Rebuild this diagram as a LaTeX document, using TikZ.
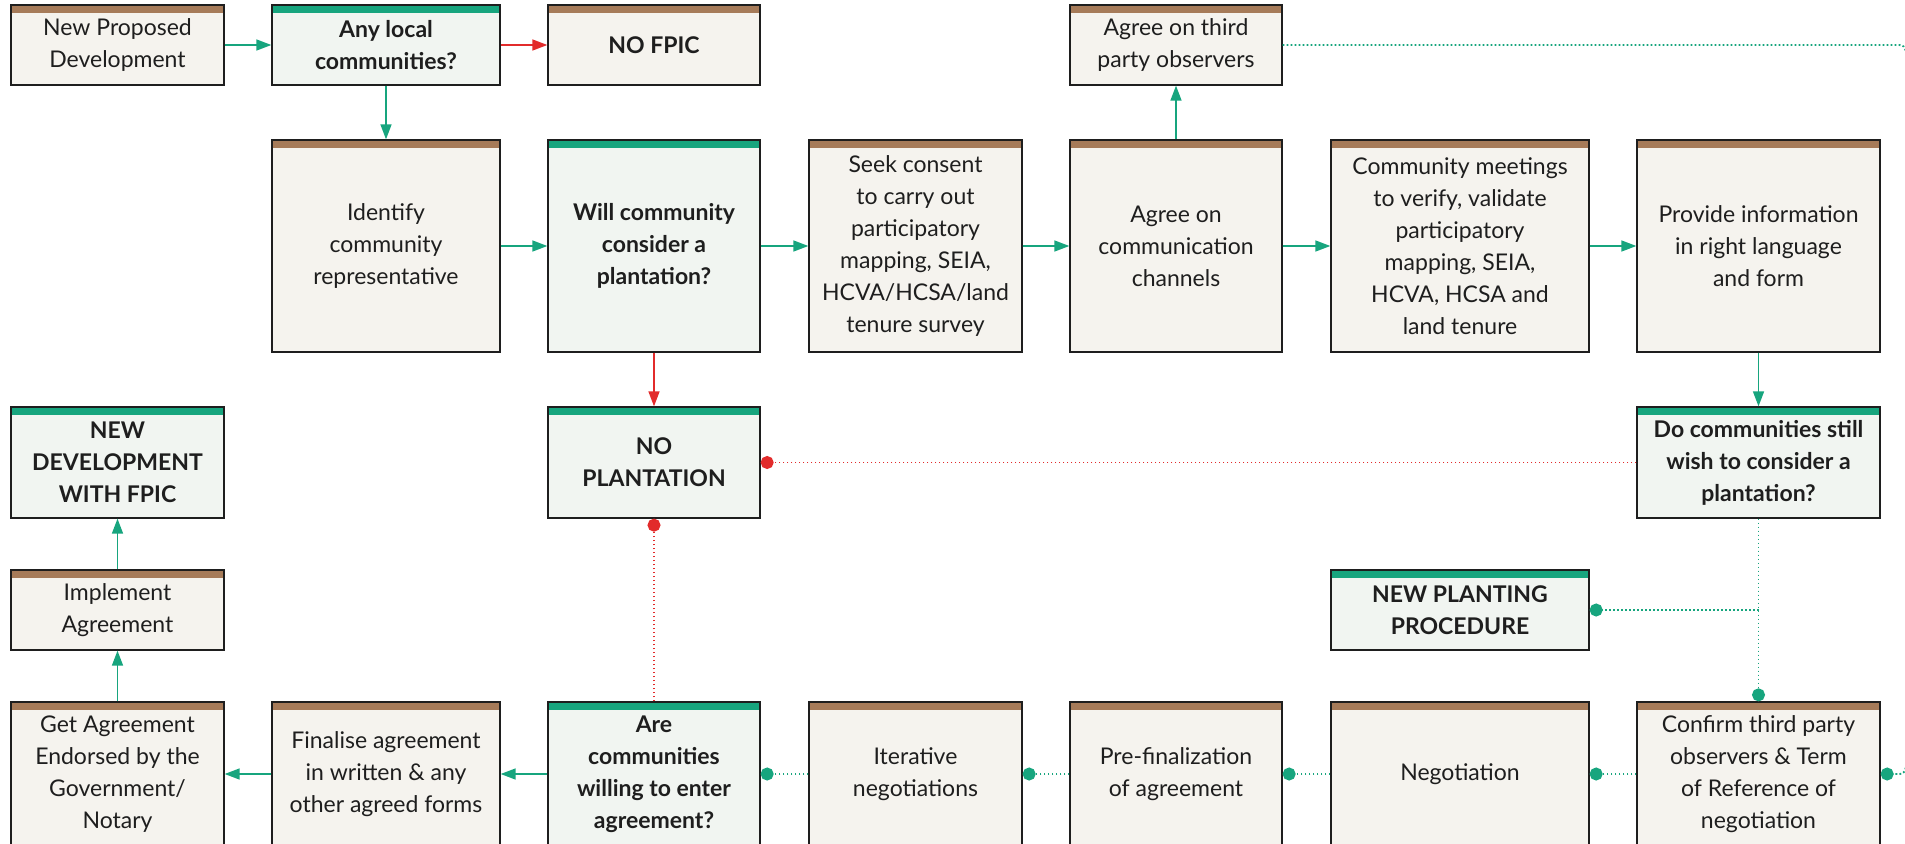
\documentclass[tikz,border=0pt]{standalone}
\usepackage{fontspec}
\setmainfont{Lato}
\usetikzlibrary{arrows.meta}
\definecolor{barbrown}{HTML}{A67B59}
\definecolor{fpicgreen}{HTML}{17A57E}
\definecolor{stopred}{HTML}{E22B2B}
\definecolor{creamfill}{HTML}{F5F3EE}
\definecolor{askfill}{HTML}{F1F5F1}
\definecolor{boxline}{HTML}{1E1E1E}

\begin{document}
\begin{tikzpicture}[x=1pt,y=-1pt]
\tikzstyle{every node}+=[inner sep=0pt, text=boxline, font=\fontsize{23}{32}\selectfont]
\tikzstyle{stepbox}=[draw=boxline, line width=1.3pt, fill=creamfill, align=center,
  path picture={\fill[barbrown] (path picture bounding box.north west) rectangle ([yshift=-8pt]path picture bounding box.north east);}]
\tikzstyle{askbox}=[stepbox, fill=askfill, font=\fontsize{23}{32}\selectfont\bfseries,
  path picture={\fill[fpicgreen] (path picture bounding box.north west) rectangle ([yshift=-8pt]path picture bounding box.north east);}]
\tikzstyle{flow}=[draw=fpicgreen, line width=1.5pt, -{Triangle[length=15pt,width=11pt]}]
\tikzstyle{stopflow}=[flow, draw=stopred]
\tikzstyle{loopflow}=[draw=fpicgreen, line width=1.8pt, dash pattern=on 1.8pt off 2.2pt, -{Circle[length=13pt]}]
\tikzstyle{stoploop}=[loopflow, draw=stopred]
\path[use as bounding box] (0,0) rectangle (1905,843);
\clip (0,0) rectangle (1905,843);

\node[stepbox, minimum width=213pt, minimum height=80pt] (proposed) at (117.5,45) {New Proposed\\Development};
\node[askbox, minimum width=228pt, minimum height=80pt] (anylocal) at (386,45) {Any local\\communities?};
\node[stepbox, minimum width=212pt, minimum height=80pt, font=\fontsize{23}{32}\selectfont\bfseries] (nofpic) at (654,45) {NO FPIC};
\node[stepbox, minimum width=212pt, minimum height=80pt] (observers) at (1176,45) {Agree on third\\party observers};

\node[stepbox, minimum width=228pt, minimum height=212pt] (identify) at (386,246) {Identify\\community\\representative};
\node[askbox, minimum width=212pt, minimum height=212pt] (will) at (654,246) {Will community\\consider a\\plantation?};
\node[stepbox, minimum width=213pt, minimum height=212pt] (seek) at (915.5,246) {Seek consent\\to carry out\\participatory\\mapping, SEIA,\\HCVA/HCSA/land\\tenure survey};
\node[stepbox, minimum width=212pt, minimum height=212pt] (channels) at (1176,246) {Agree on\\communication\\channels};
\node[stepbox, minimum width=258pt, minimum height=212pt] (meetings) at (1460,246) {Community meetings\\to verify, validate\\participatory\\mapping, SEIA,\\HCVA, HCSA and\\land tenure};
\node[stepbox, minimum width=243pt, minimum height=212pt] (inform) at (1758.5,246) {Provide information\\in right language\\and form};

\node[askbox, minimum width=213pt, minimum height=111pt] (newfpic) at (117.5,462.5) {NEW\\DEVELOPMENT\\WITH FPIC};
\node[askbox, minimum width=212pt, minimum height=111pt] (noplant) at (654,462.5) {NO\\PLANTATION};
\node[askbox, minimum width=243pt, minimum height=111pt] (stillwish) at (1758.5,462.5) {Do communities still\\wish to consider a\\plantation?};

\node[stepbox, minimum width=213pt, minimum height=80pt] (implement) at (117.5,610) {Implement\\Agreement};
\node[askbox, minimum width=258pt, minimum height=80pt] (newplanting) at (1460,610) {NEW PLANTING\\PROCEDURE};

\node[stepbox, minimum width=213pt, minimum height=144pt] (endorse) at (117.5,774) {Get Agreement\\Endorsed by the\\Government/\\Notary};
\node[stepbox, minimum width=228pt, minimum height=144pt] (finalise) at (386,774) {Finalise agreement\\in written \& any\\other agreed forms};
\node[askbox, minimum width=212pt, minimum height=144pt] (willing) at (654,774) {Are\\communities\\willing to enter\\agreement?};
\node[stepbox, minimum width=213pt, minimum height=144pt] (iterative) at (915.5,774) {Iterative\\negotiations};
\node[stepbox, minimum width=212pt, minimum height=144pt] (prefinal) at (1176,774) {Pre-finalization\\of agreement};
\node[stepbox, minimum width=258pt, minimum height=144pt] (negotiation) at (1460,774) {Negotiation};
\node[stepbox, minimum width=243pt, minimum height=144pt] (confirm) at (1758.5,774) {Confirm third party\\observers \& Term\\of Reference of\\negotiation};

\draw[flow] (proposed.east) -- (anylocal.west);
\draw[stopflow] (anylocal.east) -- (nofpic.west);
\draw[flow] (anylocal.south) -- (identify.north);
\draw[flow] (identify.east) -- (will.west);
\draw[flow] (will.east) -- (seek.west);
\draw[flow] (seek.east) -- (channels.west);
\draw[flow] (channels.east) -- (meetings.west);
\draw[flow] (meetings.east) -- (inform.west);
\draw[flow] (channels.north) -- (observers.south);
\draw[flow] (inform.south) -- (stillwish.north);
\draw[stopflow] (will.south) -- (noplant.north);
\draw[stoploop] (stillwish.west) -- (noplant.east);
\draw[stoploop] (willing.north) -- (noplant.south);
\coordinate (split) at (stillwish.south |- newplanting.east);
\draw[loopflow] (stillwish.south) -- (confirm.north);
\draw[loopflow] (split) -- (newplanting.east);
\draw[loopflow] (confirm.west) -- (negotiation.east);
\draw[loopflow] (negotiation.west) -- (prefinal.east);
\draw[loopflow] (prefinal.west) -- (iterative.east);
\draw[loopflow] (iterative.west) -- (willing.east);
\draw[flow] (willing.west) -- (finalise.east);
\draw[flow] (finalise.west) -- (endorse.east);
\draw[flow] (endorse.north) -- (implement.south);
\draw[flow] (implement.north) -- (newfpic.south);
\coordinate (loopout) at (1898,45);
\coordinate (loopdown) at (1908,58);
\draw[loopflow, -] (observers.east) -- (loopout) .. controls (1904,45) .. (loopdown);
\coordinate (loopup) at (1908,760);
\coordinate (loopin) at (1898,774);
\draw[loopflow] (loopup) .. controls (1904,774) .. (loopin) -- (confirm.east);
\end{tikzpicture}
\end{document}
